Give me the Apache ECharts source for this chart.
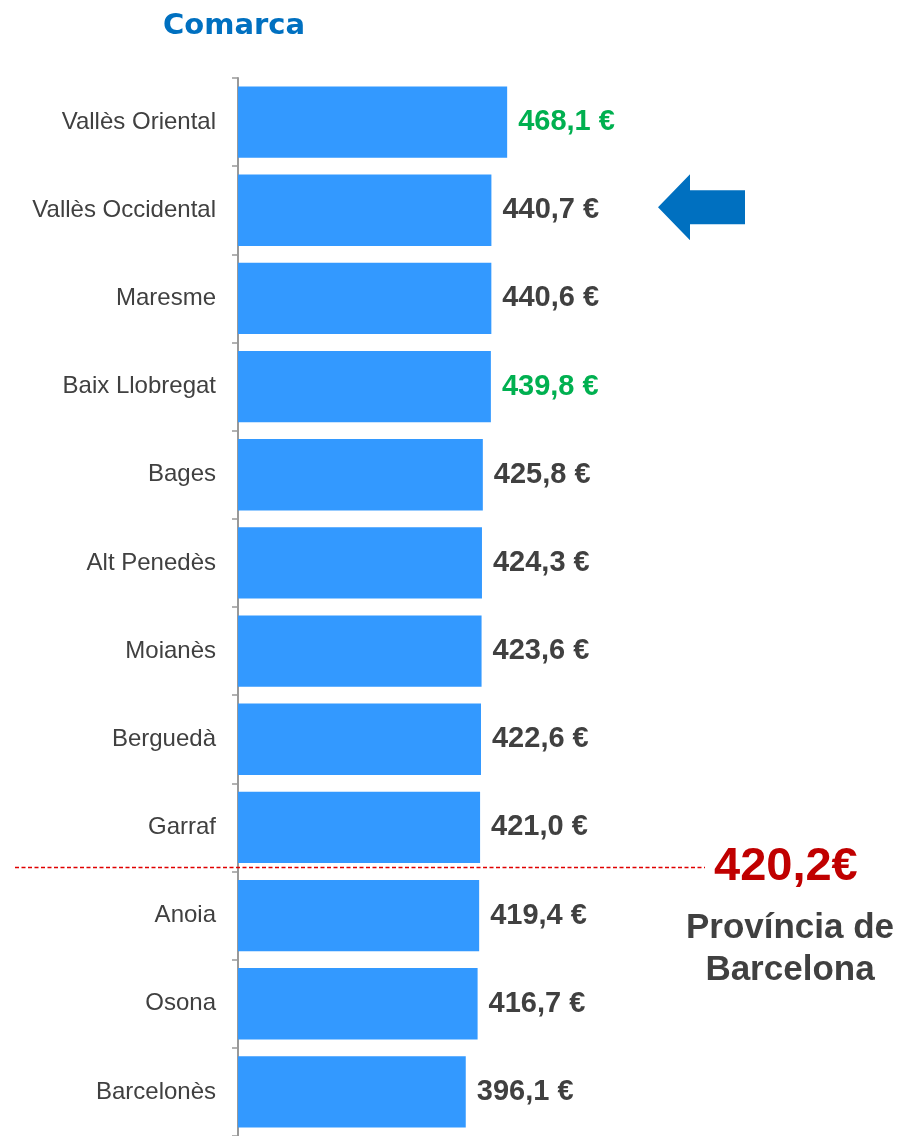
<!DOCTYPE html>
<html>
<head>
<meta charset="utf-8">
<script src="https://cdn.jsdelivr.net/npm/echarts@6/dist/echarts.min.js"></script>
<style>
html,body{margin:0;padding:0;background:#fff;}
#c{width:900px;height:1136px;}
</style>
</head>
<body>
<div id="c"></div>
<script>
const categories = ['Vallès Oriental','Vallès Occidental','Maresme','Baix Llobregat','Bages','Alt Penedès','Moianès','Berguedà','Garraf','Anoia','Osona','Barcelonès'];
const values = [468.1, 440.7, 440.6, 439.8, 425.8, 424.3, 423.6, 422.6, 421.0, 419.4, 416.7, 396.1];
const greenLabels = ['Vallès Oriental','Baix Llobregat'];
const provinceValue = 420.2;
const provinceName = 'Província de\nBarcelona';
const titleText = 'Comarca';
const arrowCategory = 'Vallès Occidental';

const FONT = '"Liberation Sans", Arial, sans-serif';
const fmt = v => v.toFixed(1).replace('.', ',');

const chart = echarts.init(document.getElementById('c'), null, {renderer: 'canvas'});

const seriesData = values.map((v, i) => ({
  value: v,
  label: { color: greenLabels.includes(categories[i]) ? '#00B050' : '#404040' }
}));

chart.setOption({
  animation: false,
  backgroundColor: '#fff',
  title: {
    text: titleText,
    left: 229, top: 7,
    textAlign: 'center',
    textStyle: { fontFamily: '"DejaVu Sans", Verdana, sans-serif', fontSize: 29, fontWeight: 'bold', color: '#0070C0' }
  },
  grid: { left: 238, right: 87, top: 78, height: 1062, containLabel: false },
  xAxis: {
    type: 'value', min: 0, max: 1000, show: false
  },
  yAxis: {
    type: 'category', data: categories, inverse: true,
    axisLine: { show: true, lineStyle: { color: '#999', width: 2 } },
    axisTick: { show: true, length: 6, lineStyle: { color: '#999', width: 1.5 } },
    axisLabel: { fontFamily: FONT, fontSize: 24, color: '#404040', margin: 22, padding: [5, 0, 0, 0] }
  },
  series: [{
    type: 'bar',
    data: seriesData,
    barCategoryGap: '19%',
    itemStyle: { color: '#3399FF' },
    label: {
      show: true, position: 'right', distance: 11,
      fontFamily: FONT, fontSize: 29, fontWeight: 'bold',
      padding: [4, 0, 0, 0],
      formatter: p => fmt(p.value) + ' €'
    }
  }]
});

// annotations positioned through the chart's own scales
const idxBelow = values.findIndex(v => v < provinceValue);
const yA = chart.convertToPixel({yAxisIndex: 0}, categories[idxBelow - 1]);
const yB = chart.convertToPixel({yAxisIndex: 0}, categories[idxBelow]);
const lineY = (yA + yB) / 2 - 4;
const yArrow = chart.convertToPixel({yAxisIndex: 0}, arrowCategory);

chart.setOption({
  graphic: [
    {
      type: 'line', silent: true,
      shape: { x1: 15, y1: lineY, x2: 705, y2: lineY },
      style: { stroke: '#E00000', lineWidth: 1.5, lineDash: [4, 2.5] }, z: 10
    },
    {
      type: 'text', x: 714, y: lineY,
      style: { text: fmt(provinceValue) + '€', fontFamily: FONT, fontSize: 47, fontWeight: 'bold', fill: '#C00000', verticalAlign: 'middle' }
    },
    {
      type: 'text', x: 790, y: lineY + 40,
      style: { text: provinceName, fontFamily: FONT, fontSize: 35, fontWeight: 'bold', fill: '#404040', align: 'center', lineHeight: 42 }
    },
    {
      type: 'polygon', silent: true,
      shape: { points: [[658, yArrow - 3], [690, yArrow - 36], [690, yArrow - 20], [745, yArrow - 20], [745, yArrow + 14], [690, yArrow + 14], [690, yArrow + 30]] },
      style: { fill: '#0070C0' }
    }
  ]
});
</script>
</body>
</html>
